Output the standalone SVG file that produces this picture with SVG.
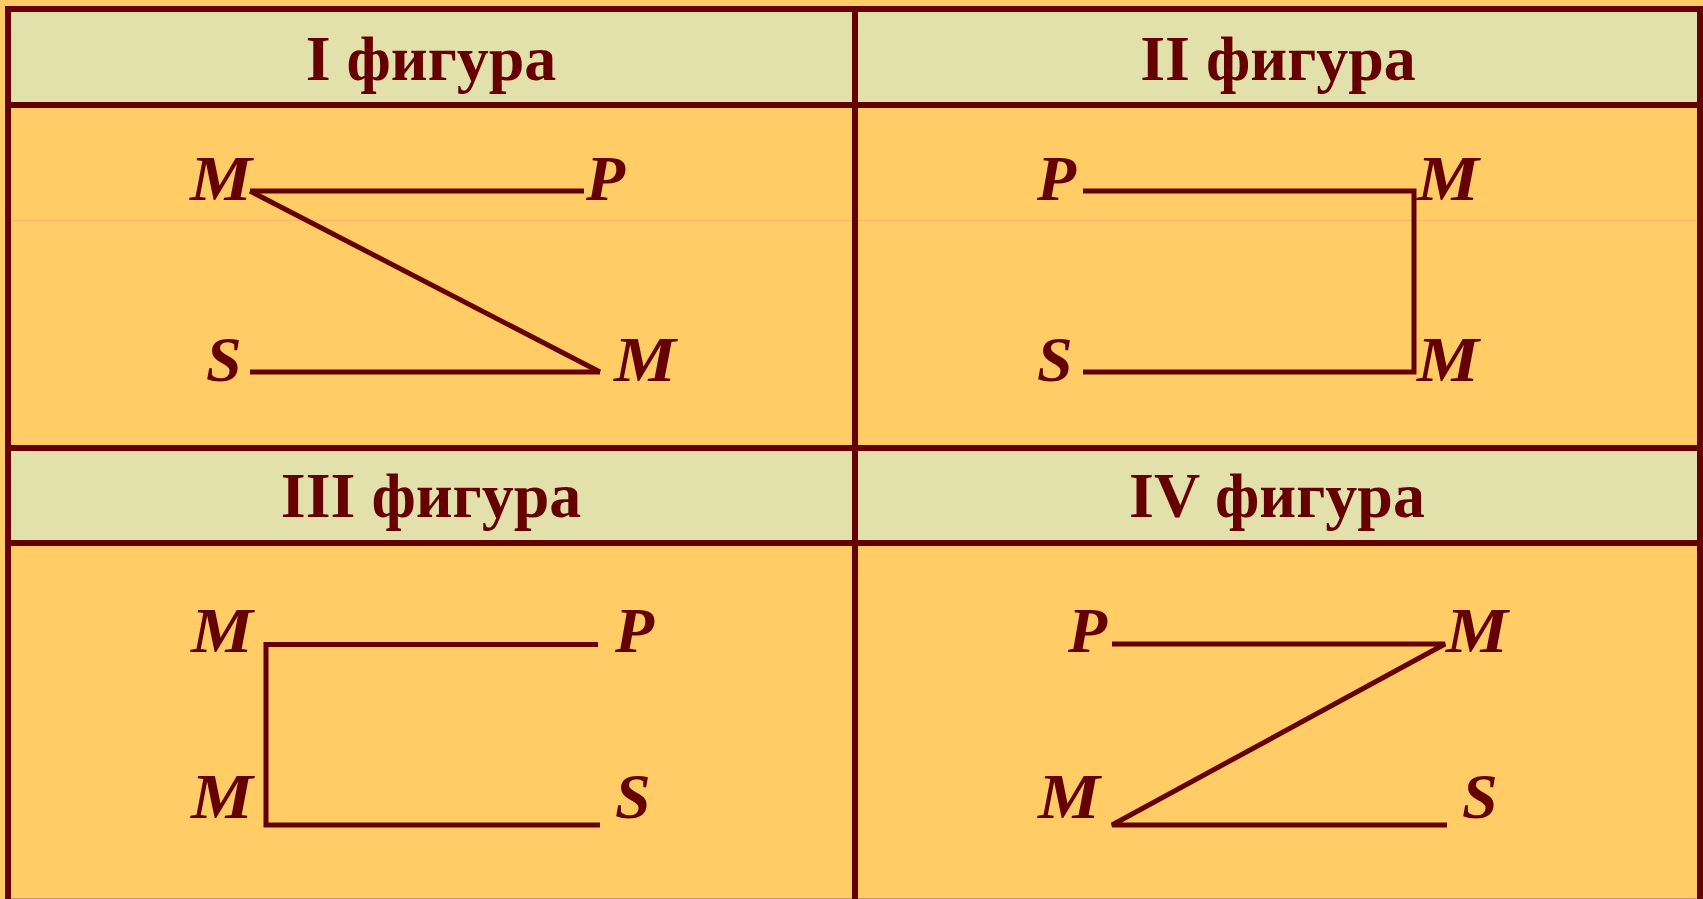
<svg xmlns="http://www.w3.org/2000/svg" width="1703" height="899" viewBox="0 0 1703 899">
<style>
.grid{stroke:#660000;stroke-width:6;fill:none}
.fig{stroke:#660000;stroke-width:5;fill:none;stroke-linejoin:miter;stroke-linecap:butt}
.hdr{font-family:"Liberation Serif","Times New Roman",serif;font-weight:bold;font-size:64px;fill:#660000;text-anchor:middle}
.lbl{font-family:"Liberation Serif","Times New Roman",serif;font-weight:bold;font-style:italic;font-size:64px;fill:#660000}
</style>
<rect x="0" y="0" width="1703" height="899" fill="#FFCC66"/>
<g id="headers-bg">
<rect x="8" y="9" width="1692" height="96" fill="#E3E1AB"/>
<rect x="8" y="448" width="1692" height="95" fill="#E3E1AB"/>
</g>
<line x1="11" y1="220.5" x2="1697" y2="220.5" stroke="#FFB46E" stroke-width="1"/>
<line x1="11" y1="898.5" x2="1697" y2="898.5" stroke="#C9955A" stroke-width="1"/>
<g id="grid" class="grid">
<line x1="5" y1="9" x2="1703" y2="9"/>
<line x1="8" y1="6" x2="8" y2="899"/>
<line x1="1700" y1="6" x2="1700" y2="899"/>
<line x1="855" y1="9" x2="855" y2="899"/>
<line x1="8" y1="105" x2="1700" y2="105"/>
<line x1="8" y1="448" x2="1700" y2="448"/>
<line x1="8" y1="543" x2="1700" y2="543"/>
</g>
<g id="figure-1">
<text class="hdr" x="431" y="80">I фигура</text>
<text class="lbl" x="190" y="200" textLength="62" lengthAdjust="spacingAndGlyphs">M</text>
<text class="lbl" x="586" y="200">P</text>
<text class="lbl" x="206" y="381">S</text>
<text class="lbl" x="614" y="381" textLength="62" lengthAdjust="spacingAndGlyphs">M</text>
</g>
<g id="figure-2">
<text class="hdr" x="1278" y="80">II фигура</text>
<text class="lbl" x="1037" y="200">P</text>
<text class="lbl" x="1417" y="200" textLength="62" lengthAdjust="spacingAndGlyphs">M</text>
<text class="lbl" x="1037" y="381">S</text>
<text class="lbl" x="1417" y="381" textLength="62" lengthAdjust="spacingAndGlyphs">M</text>
</g>
<g id="figure-3">
<text class="hdr" x="431" y="517">III фигура</text>
<text class="lbl" x="191" y="652" textLength="62" lengthAdjust="spacingAndGlyphs">M</text>
<text class="lbl" x="615" y="652">P</text>
<text class="lbl" x="191" y="818" textLength="62" lengthAdjust="spacingAndGlyphs">M</text>
<text class="lbl" x="615" y="818">S</text>
</g>
<g id="figure-4">
<text class="hdr" x="1277" y="517">IV фигура</text>
<text class="lbl" x="1068" y="652">P</text>
<text class="lbl" x="1446" y="652" textLength="62" lengthAdjust="spacingAndGlyphs">M</text>
<text class="lbl" x="1038" y="818" textLength="62" lengthAdjust="spacingAndGlyphs">M</text>
<text class="lbl" x="1462" y="818">S</text>
</g>
<g id="connectors" class="fig">
<line x1="250" y1="191" x2="584" y2="191"/>
<line x1="250" y1="191" x2="600" y2="372"/>
<line x1="250" y1="372" x2="600" y2="372"/>
<polyline points="1083,191 1414,191 1414,372 1083,372"/>
<polyline points="598,644.5 266,644.5 266,825 600,825"/>
<polyline points="1112,644 1445,644 1112,825 1447,825"/>
</g>
</svg>
